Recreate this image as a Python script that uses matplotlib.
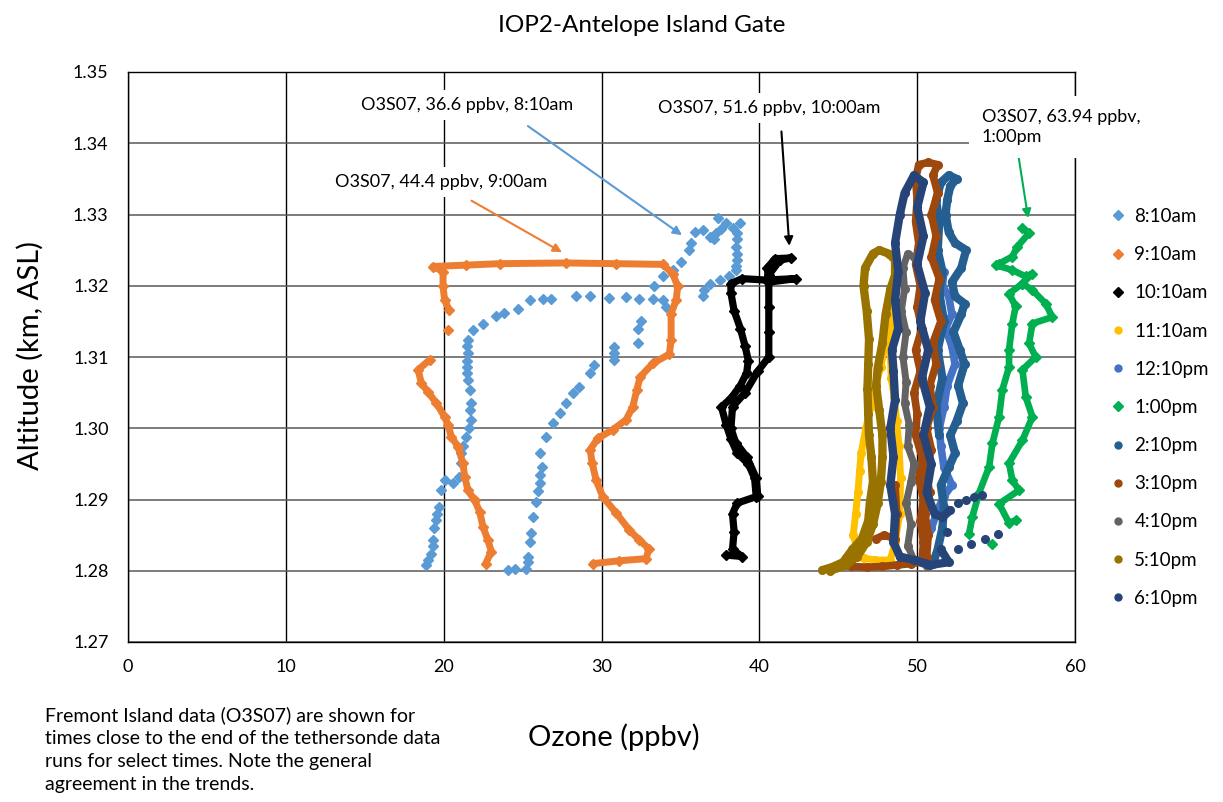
import numpy as np
import matplotlib
matplotlib.use("Agg")
from matplotlib import pyplot as plt
from matplotlib.lines import Line2D

plt.rcParams["font.family"] = ["Lato", "DejaVu Sans"]

nan = np.nan

# 8:10am (sparse diamonds)
am810_x = [18.9, 19.0, 19.2, 19.3, 19.3, 19.4, 19.5, 19.6, 19.7, 19.85, 20.06, 20.6, 21.0, 21.1, 21.1,
           21.2, 21.4, 21.6, 21.75, 21.7, 21.75, 21.7, 21.55, 21.5, 21.45, 21.5, 21.55, 21.5, 21.55, 21.85,
           22.5, 23.3, 23.85, 24.7, 25.45, 26.3, 26.8, 28.4, 29.25, 30.5, 31.55, 32.4, 33.25, 33.9, 34.1,
           24.07, 24.5, 25.2, 25.35, 25.35, 25.5, 25.55, 25.65, 25.85, 26.0, 26.1, 26.1, 26.2, 26.1, 26.5,
           26.9, 27.35, 27.75, 28.2, 28.6, 29.25, 29.55, 30.8, 30.8, 30.8, 32.3, 32.3, 32.5, 33.35, 33.9,
           34.5, 35.05, 35.55, 35.7, 35.9, 36.4, 36.85, 37.25, 37.35, 37.9, 38.3, 38.75, 38.6, 38.5, 38.6,
           38.5, 38.1, 37.5, 36.85, 36.5, 36.4, 37.1, 37.6, 38.6, 38.6, 38.55]
am810_y = [1.2808, 1.2815, 1.2824, 1.2835, 1.2843, 1.2860, 1.2871, 1.2880, 1.2890, 1.2913, 1.2927, 1.2923, 1.2932, 1.2951, 1.2965,
           1.2975, 1.2988, 1.3000, 1.3012, 1.3025, 1.3035, 1.3054, 1.3068, 1.3078, 1.3086, 1.3095, 1.3105, 1.3115, 1.3124, 1.3138,
           1.3147, 1.3157, 1.3162, 1.3168, 1.3180, 1.3182, 1.3182, 1.3185, 1.3185, 1.3183, 1.3184, 1.3182, 1.3182, 1.3180, 1.3170,
           1.2801, 1.2803, 1.2803, 1.2812, 1.2820, 1.2840, 1.2853, 1.2876, 1.2897, 1.2912, 1.2923, 1.2935, 1.2946, 1.2965, 1.2988,
           1.3007, 1.3021, 1.3035, 1.3049, 1.3058, 1.3077, 1.3089, 1.3096, 1.3105, 1.3114, 1.3119, 1.3140, 1.3150, 1.3199, 1.3213,
           1.3222, 1.3234, 1.3250, 1.3260, 1.3276, 1.3278, 1.3269, 1.3274, 1.3295, 1.3288, 1.3281, 1.3288, 1.3274, 1.3255, 1.3236,
           1.3222, 1.3213, 1.3208, 1.3203, 1.3194, 1.3185, 1.3265, 1.3280, 1.3265, 1.3245, 1.3228]

# 9:10am
am910_x = [29.45, 31.14, 32.83, 33.0, 32.4, 31.77, 30.93, 30.08, 29.66, 29.41, 29.28, 29.77, 30.72, 31.56, 31.98,
           32.24, 32.45, 33.25, 34.30, 34.41, 34.41, 34.73, 34.83, 34.51, 33.88, 30.93, 27.76, 23.54, 21.43, 19.32,
           19.96, 19.96, 20.06, 20.34, nan, 20.27, nan,
           19.11, 18.38, 18.59, 19.01, 19.54, 20.06, 20.27, 20.49, 20.91, 21.22, 21.33, 21.54, 21.96, 22.28,
           22.49, 22.80, 23.02, 22.66]
am910_y = [1.2810, 1.2814, 1.2817, 1.2831, 1.2843, 1.2857, 1.2881, 1.2904, 1.2927, 1.2951, 1.2970, 1.2986, 1.2998, 1.3012, 1.3030,
           1.3054, 1.3072, 1.3091, 1.3104, 1.3124, 1.3161, 1.3180, 1.3199, 1.3217, 1.3230, 1.3231, 1.3232, 1.3231, 1.3229, 1.3227,
           1.3220, 1.3199, 1.3180, 1.3166, nan, 1.3138, nan,
           1.3096, 1.3082, 1.3063, 1.3051, 1.3035, 1.3016, 1.3005, 1.2988, 1.2974, 1.2951, 1.2932, 1.2913, 1.2899, 1.2883,
           1.2862, 1.2843, 1.2827, 1.2810]

# 10:10am
am1010_x = [37.9, 38.9, 38.3, 38.4, 38.3, 38.6, 39.8, 39.7, 39.3, 38.6, 38.2, 37.9, 37.6, 38.2, 38.8, 39.2, 39.3, 39.1,
            38.8, 38.4, 38.2, 38.2, 38.9, 40.4, 42.3, 40.6, 40.5, 41.0, 42.0, 41.3, 40.6, 40.6, 40.6, 40.6, 39.9,
            39.1, 38.3, 38.2, 38.5, 39.2, 39.8, 39.9]
am1010_y = [1.2822, 1.2820, 1.2830, 1.2855, 1.2880, 1.2895, 1.2904, 1.2930, 1.2950, 1.2965, 1.2985, 1.3005, 1.3030, 1.3042,
            1.3060, 1.3078, 1.3095, 1.3115, 1.3140, 1.3165, 1.3190, 1.3203, 1.3210, 1.3208, 1.3210, 1.3205, 1.3225, 1.3238,
            1.3239, 1.3236, 1.3215, 1.3170, 1.3135, 1.3100, 1.3080, 1.3050, 1.3030, 1.3000, 1.2980, 1.2960, 1.2930, 1.2905]

# 11:10am
am1110_x = [48.2, 47.3, 46.6, 46.2, 45.95, 46.1, 46.25, 46.35, 46.45, 46.75, 47.05, 47.4, 47.7, 47.9, 48.0, 48.15,
            48.3, 48.4, 48.3, 48.35, 48.55, 48.7, 48.85, 48.95, 48.9, 48.6, 48.3]
am1110_y = [1.2815, 1.2815, 1.2818, 1.2830, 1.2850, 1.2880, 1.2910, 1.2940, 1.2965, 1.3000, 1.3030, 1.3063, 1.3086,
            1.3110, 1.3130, 1.3160, 1.3180, 1.3150, 1.3110, 1.3070, 1.3044, 1.3010, 1.2975, 1.2930, 1.2880, 1.2840, 1.2815]

# 12:10pm
pm1210_x = [50.3, 50.5, 50.9, 51.3, 51.7, 52.2, 51.7, 51.5, 51.4, 51.7, 51.9, 52.4, 52.2, 51.8, 52.2, 52.0, 51.6, 51.7]
pm1210_y = [1.2815, 1.2835, 1.2860, 1.2885, 1.2905, 1.2920, 1.2945, 1.2975, 1.3000, 1.3030, 1.3060, 1.3090, 1.3115,
            1.3140, 1.3160, 1.3185, 1.3200, 1.3220]

# 1:00pm
pm100_x = [56.67, 57.09, 56.35, 56.03, 55.19, 54.98, 56.03, 56.88, 57.30, 56.67, 55.82, 56.24, 56.03, 55.82, 55.82,
           55.40, 55.19, 54.77, 54.56, 53.92, 53.50, 53.29, nan,
           56.67, 57.30, 58.14, 58.56, 57.30, 57.09, 57.51, 56.67, 56.88, 57.30, 56.67, 55.82, 56.03, 56.45, 55.19,
           55.82, 56.24, nan, 54.77]
pm100_y = [1.3281, 1.3274, 1.3255, 1.3241, 1.3231, 1.3229, 1.3222, 1.3213, 1.3217, 1.3203, 1.3189, 1.3171, 1.3147, 1.3110,
           1.3086, 1.3054, 1.3016, 1.2979, 1.2946, 1.2909, 1.2876, 1.2852, nan,
           1.3203, 1.3194, 1.3175, 1.3156, 1.3147, 1.3119, 1.3100, 1.3082, 1.3044, 1.3016, 1.2983, 1.2951, 1.2927, 1.2913,
           1.2894, 1.2867, 1.2871, nan, 1.2838]

# 2:10pm
pm210_x = [51.0, 51.3, 51.6, 51.7, 51.5, 52.0, 52.4, 52.1, 52.5, 52.9, 52.6, 53.0, 52.7, 52.3, 52.8, 53.0, 52.4, 52.2,
           52.8, 53.1, 52.4, 52.0, 51.8, 51.9, 52.1, 52.5, 52.0, 51.5, 51.2, 51.4, 51.3, 51.6, 51.4, 51.7, 51.3, 51.6,
           51.2, 51.4]
pm210_y = [1.2810, 1.2830, 1.2860, 1.2890, 1.2920, 1.2945, 1.2965, 1.2990, 1.3010, 1.3035, 1.3060, 1.3090, 1.3110,
           1.3135, 1.3160, 1.3175, 1.3185, 1.3205, 1.3225, 1.3250, 1.3260, 1.3275, 1.3300, 1.3320, 1.3340, 1.3350,
           1.3355, 1.3345, 1.3320, 1.3290, 1.3250, 1.3220, 1.3190, 1.3150, 1.3110, 1.3070, 1.3030, 1.2990]

# 3:10pm
pm310_x = [45.8, 46.8, 47.8, 48.7, 49.6, 50.3, 50.4, 50.2, 50.4, 50.1, 50.3, 49.9, 50.0, 49.8, 50.2, 49.9, 50.3, 50.0,
           50.2, 49.9, 50.1, 49.9, 50.0, 49.9, 50.1, 50.7, 51.3, 51.0, 51.3, 50.9, 51.2, 50.9, 51.4, 51.1, 51.5, 51.0,
           51.2, 50.8, 51.0, 50.6, 50.9, 50.5, 50.8, 50.5, 50.7, 50.6, nan,
           47.4, 47.9, 48.6, 48.7, 48.6]
pm310_y = [1.2806, 1.2805, 1.2806, 1.2808, 1.2810, 1.2812, 1.2840, 1.2870, 1.2900, 1.2930, 1.2960, 1.2990, 1.3020,
           1.3050, 1.3080, 1.3110, 1.3140, 1.3170, 1.3200, 1.3230, 1.3260, 1.3290, 1.3320, 1.3350, 1.3370, 1.3373,
           1.3370, 1.3355, 1.3330, 1.3300, 1.3270, 1.3240, 1.3210, 1.3180, 1.3150, 1.3120, 1.3090, 1.3060, 1.3030,
           1.3000, 1.2970, 1.2940, 1.2910, 1.2880, 1.2850, 1.2820, nan,
           1.2845, 1.2850, 1.2845, 1.2880, 1.2920]

# 4:10pm
pm410_x = [50.6, 49.8, 49.4, 49.6, 49.3, 49.6, 49.8, 49.4, 49.5, 49.2, 49.3, 49.1, 49.3, 49.0, 49.2, 49.1, 49.4, 49.8]
pm410_y = [1.2807, 1.2815, 1.2835, 1.2865, 1.2895, 1.2925, 1.2950, 1.2975, 1.3005, 1.3035, 1.3065, 1.3100, 1.3135,
           1.3165, 1.3195, 1.3225, 1.3245, 1.3240]

# 5:10pm
pm510_x = [44.0, 44.6, 45.3, 45.9, 46.5, 46.9, 47.0, 47.2, 47.1, 46.95, 46.9, 46.85, 46.9, 46.95, 46.8, 46.6, 46.7,
           47.2, 47.6, 48.2, 48.6, 48.6, 48.3, 48.0, 47.8, 47.5, 47.4, 47.6, 47.8, 47.8, 47.7, 47.5, 47.2, 46.8, 46.2,
           45.5, 44.5]
pm510_y = [1.2801, 1.2805, 1.2812, 1.2830, 1.2845, 1.2870, 1.2895, 1.2925, 1.2960, 1.2990, 1.3020, 1.3055, 1.3090,
           1.3125, 1.3165, 1.3200, 1.3225, 1.3245, 1.3250, 1.3245, 1.3236, 1.3215, 1.3195, 1.3160, 1.3120, 1.3085,
           1.3060, 1.3025, 1.2990, 1.2960, 1.2925, 1.2895, 1.2865, 1.2840, 1.2820, 1.2808, 1.2800]

# 6:10pm
pm610_x = [50.6, 49.8, 48.9, 48.5, 48.6, 48.3, 48.5, 48.3, 48.6, 48.5, 48.4, 48.8, 48.6, 48.8, 48.6, 48.9, 49.2, 49.8,
           50.4, 50.0, 50.4, 50.0, 50.5, 50.2, 50.7, 50.3, 50.8, 50.4, 50.9, 50.6, 51.1, 51.6, 52.1, nan,
           52.6, nan, 53.1, nan, 53.6, nan, 54.1, nan, 51.9, nan, 52.6, nan, 53.4, nan, 54.3, nan, 55.1, nan,
           51.5, 52.0, 50.8]
pm610_y = [1.2810, 1.2815, 1.2820, 1.2840, 1.2880, 1.2920, 1.2960, 1.3000, 1.3040, 1.3080, 1.3110, 1.3140, 1.3180,
           1.3220, 1.3260, 1.3300, 1.3330, 1.3355, 1.3345, 1.3310, 1.3270, 1.3230, 1.3190, 1.3150, 1.3110, 1.3070,
           1.3030, 1.2990, 1.2950, 1.2910, 1.2880, 1.2875, 1.2885, nan,
           1.2895, nan, 1.2900, nan, 1.2903, nan, 1.2907, nan, 1.2855, nan, 1.2830, nan, 1.2838, nan, 1.2845, nan,
           1.2852, nan, 1.2830, 1.2812, 1.2808]

labels = ["8:10am", "9:10am", "10:10am", "11:10am", "12:10pm", "1:00pm",
          "2:10pm", "3:10pm", "4:10pm", "5:10pm", "6:10pm"]
colors = ["#5B9BD5", "#ED7D31", "#000000", "#FFC000", "#4472C4", "#00B050",
          "#255E91", "#9E480E", "#636363", "#997300", "#264478"]
markers = ["D", "D", "D", "o", "o", "D", "o", "o", "o", "o", "o"]
widths = [0, 5.0, 5.2, 5.0, 5.5, 4.8, 6.0, 5.5, 5.0, 6.0, 6.0]
series = [(am810_x, am810_y), (am910_x, am910_y), (am1010_x, am1010_y), (am1110_x, am1110_y),
          (pm1210_x, pm1210_y), (pm100_x, pm100_y), (pm210_x, pm210_y), (pm310_x, pm310_y),
          (pm410_x, pm410_y), (pm510_x, pm510_y), (pm610_x, pm610_y)]

fig = plt.figure(figsize=(12.23, 8.02), dpi=100)
ax = fig.add_axes([128 / 1223, 1 - 642 / 802, 947 / 1223, 570 / 802])

for i, (sx, sy) in enumerate(series):
    if i == 0:
        ax.plot(sx, sy, linestyle="none", marker="D", markersize=5, color=colors[i])
    else:
        ax.plot(sx, sy, linestyle="-", linewidth=widths[i], marker=markers[i], markersize=5.5,
                color=colors[i], solid_joinstyle="round", solid_capstyle="round")

ax.set_xlim(0, 60)
ax.set_ylim(1.27, 1.35)
ax.set_xticks(range(0, 61, 10))
ax.set_yticks(np.arange(1.27, 1.3501, 0.01))
ax.set_yticklabels([f"{v:.2f}" for v in np.arange(1.27, 1.3501, 0.01)])
ax.tick_params(length=0, labelsize=13, pad=14)
ax.tick_params(axis="x", pad=12)
ax.grid(axis="x", color="black", linewidth=1.0)
ax.grid(axis="y", color="#595959", linewidth=1.1)
ax.set_axisbelow(True)
for s in ax.spines.values():
    s.set_color("black")
    s.set_linewidth(1.0)

box = dict(facecolor="white", edgecolor="none", pad=5)
ax.annotate("O3S07, 36.6 ppbv, 8:10am", xy=(35.1, 1.3271), xytext=(21.46, 1.3454),
            ha="center", va="center", fontsize=13, bbox=box,
            arrowprops=dict(arrowstyle="-|>", color="#5B9BD5", lw=1.5, shrinkA=8, shrinkB=0,
                            relpos=(0.7, 0.0)))
ax.annotate("O3S07, 44.4 ppbv, 9:00am", xy=(27.5, 1.3247), xytext=(19.87, 1.3346),
            ha="center", va="center", fontsize=13, bbox=box,
            arrowprops=dict(arrowstyle="-|>", color="#ED7D31", lw=1.5, shrinkA=6, shrinkB=0,
                            relpos=(0.55, 0.0)))
ax.annotate("O3S07, 51.6 ppbv, 10:00am", xy=(41.9, 1.3256), xytext=(40.63, 1.3449),
            ha="center", va="center", fontsize=13, bbox=box,
            arrowprops=dict(arrowstyle="-|>", color="black", lw=1.5, shrinkA=6, shrinkB=0,
                            relpos=(0.55, 0.0)))
ax.annotate("O3S07, 63.94 ppbv,\n1:00pm", xy=(57.03, 1.3295), xytext=(54.1, 1.3423),
            ha="left", va="center", fontsize=13, linespacing=1.35, annotation_clip=False,
            bbox=dict(facecolor="white", edgecolor="none", pad=9),
            arrowprops=dict(arrowstyle="-|>", color="#00B050", lw=1.5, shrinkA=0, shrinkB=0,
                            relpos=(0.22, 0.0)))

handles = [Line2D([], [], linestyle="none", marker=markers[i], markersize=5, color=colors[i])
           for i in range(len(labels))]
fig.legend(handles, labels, loc="upper left", bbox_to_anchor=(1110 / 1223, 1 - 208 / 802),
           frameon=False, fontsize=13.5, labelspacing=1.13, handlelength=0.8, handletextpad=0.5,
           borderaxespad=0, borderpad=0)

fig.text(642 / 1223, 1 - 25 / 802, "IOP2-Antelope Island Gate", ha="center", va="center", fontsize=17.5)
fig.text(614 / 1223, 1 - 737 / 802, "Ozone (ppbv)", ha="center", va="center", fontsize=21)
fig.text(30 / 1223, 1 - 355 / 802, "Altitude (km, ASL)", ha="center", va="center", fontsize=21,
         rotation=90)
fig.text(45 / 1223, 1 - 706 / 802,
         "Fremont Island data (O3S07) are shown for\ntimes close to the end of the tethersonde data\n"
         "runs for select times. Note the general\nagreement in the trends.",
         ha="left", va="top", fontsize=14, linespacing=1.42)

plt.savefig("out.png", dpi=100)
